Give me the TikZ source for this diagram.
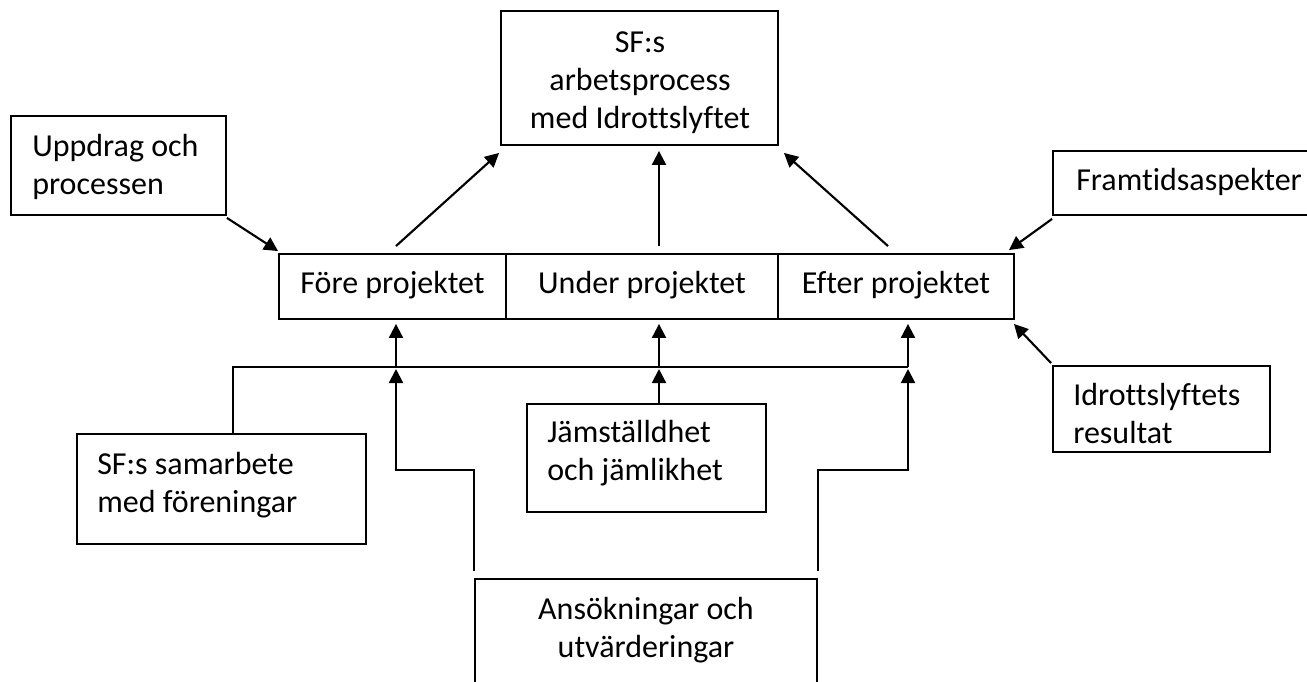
\documentclass[tikz,border=0pt]{standalone}
\usepackage{fontspec}
\setmainfont{Carlito}[Ligatures=NoCommon]
\usetikzlibrary{arrows.meta}
\begin{document}
\begin{tikzpicture}[x=0.75pt,y=-0.75pt,
  box/.style={draw, line width=1.4pt, inner sep=0pt, rectangle},
  txt/.style={inner sep=0pt, font=\fontsize{24pt}{28.2pt}\selectfont},
  arr/.style={line width=1.6pt, -{Triangle[length=10.5pt,width=10.5pt]}},
  busline/.style={line width=1.2pt}]
\useasboundingbox (0,0) rectangle (1307,682);
\clip (0,0) rectangle (1307,682);
% boxes
\node[box, minimum width=207.75pt, minimum height=100.5pt] (top) at (639.5,78) {};
\node[box, minimum width=161.25pt, minimum height=74.25pt] (upp) at (118.5,165.5) {};
\node[box, minimum width=170.25pt, minimum height=48.75pt] (fore) at (392.5,286.5) {};
\node[box, minimum width=204pt, minimum height=48.75pt] (under) at (642,286.5) {};
\node[box, minimum width=177pt, minimum height=48.75pt] (efter) at (896,286.5) {};
\node[box, minimum width=207.75pt, minimum height=48pt] (fram) at (1191.5,183) {};
\node[box, minimum width=162.75pt, minimum height=64.5pt] (idr) at (1161.5,409) {};
\node[box, minimum width=216.75pt, minimum height=82.5pt] (sf) at (221.5,489) {};
\node[box, minimum width=179.25pt, minimum height=81pt] (jam) at (646.5,458) {};
\node[box, minimum width=256.5pt, minimum height=105.75pt] (ans) at (646,649.5) {};
% texts (base anchor = baseline of last line)
\node[txt, anchor=base, align=center] (toptxt) at (640,128) {SF:s\\arbetsprocess\\med Idrottslyftet};
\node[txt, anchor=base west, align=left] (upptxt) at (32,194) {Uppdrag och\\processen};
\node[txt, anchor=base] (foretxt) at (392.5,293) {Före projektet};
\node[txt, anchor=base] (undertxt) at (642,293) {Under projektet};
\node[txt, anchor=base] (eftertxt) at (896,293) {Efter projektet};
\node[txt, anchor=base west] (framtxt) at (1076,190) {Framtidsaspekter};
\node[txt, anchor=base west, align=left] (idrtxt) at (1073,443) {Idrottslyftets\\resultat};
\node[txt, anchor=base west, align=left] (sftxt) at (97,512) {SF:s samarbete\\med föreningar};
\node[txt, anchor=base west, align=left] (jamtxt) at (547,480) {Jämställdhet\\och jämlikhet};
\node[txt, anchor=base, align=center] (anstxt) at (646,657) {Ansökningar och\\utvärderingar};
% arrows to top box
\draw[arr] ([xshift=2.6pt,yshift=5.25pt]fore.north) -- ([xshift=-0.75pt,yshift=-5.25pt]top.south west);
\draw[arr] ([xshift=12.75pt,yshift=5.25pt]under.north) -- ([xshift=12.75pt,yshift=-3.75pt]under.north |- top.south);
\draw[arr] ([xshift=-6pt,yshift=5.25pt]efter.north) -- ([xshift=3.75pt,yshift=-5.25pt]top.south east);
% side arrows
\draw[arr] ([yshift=-1.5pt]upp.south east) -- ([yshift=1.5pt]fore.north west);
\draw[arr] ([yshift=-2.25pt]fram.south west) -- ([xshift=-4.5pt,yshift=2.25pt]efter.north east);
\draw[arr] ([xshift=-0.75pt,yshift=1.5pt]idr.north west) -- ([xshift=-0.75pt,yshift=-3pt]efter.south east);
% bus
\coordinate (busL) at (233,367);
\coordinate (b1) at (396,367);
\coordinate (b2) at (659,367);
\coordinate (b3) at (908,367);
\draw[busline] (sf.north -| busL) -- (busL) -- (b3);
\draw[arr] (b1) -- ([yshift=-3pt]fore.south -| b1);
\draw[arr] (b2) -- ([yshift=-3pt]under.south -| b2);
\draw[arr] (b3) -- ([yshift=-3pt]efter.south -| b3);
% from below
\draw[arr] (jam.north -| b2) -- ([yshift=-1.5pt]b2);
\draw[arr] ([yshift=5.25pt]ans.north west) -- ++(0,-101) -| ([yshift=-1.5pt]b1);
\draw[arr] ([yshift=5.25pt]ans.north east) -- ++(0,-101) -| ([yshift=-1.5pt]b3);
\end{tikzpicture}
\end{document}
